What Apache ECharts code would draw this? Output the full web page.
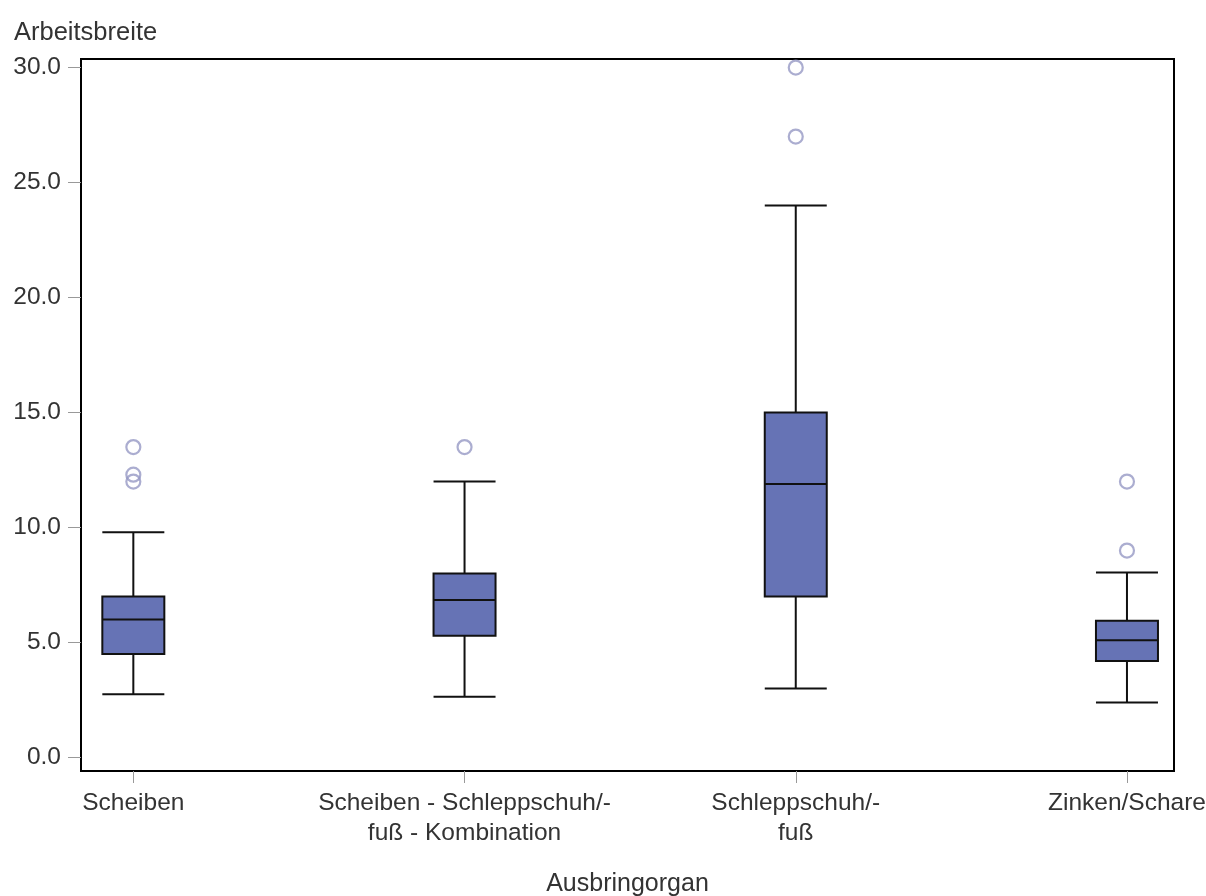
<!DOCTYPE html>
<html>
<head>
<meta charset="utf-8">
<script src="https://cdn.jsdelivr.net/npm/echarts@6/dist/echarts.min.js"></script>
<style>html,body{margin:0;padding:0;background:#fff;}#chart{width:1206px;height:896px;}</style>
</head>
<body>
<div id="chart"></div>
<script>
// Categories (x positions 0..3)
const categories = ['Scheiben', 'Scheiben - Schleppschuh/-\nfuß - Kombination', 'Schleppschuh/-\nfuß', 'Zinken/Schare'];
// Box statistics: [min whisker, Q1, median, Q3, max whisker]
const boxStats = [
  [2.75, 4.5, 6.0, 7.0, 9.8],
  [2.65, 5.3, 6.85, 8.0, 12.0],
  [3.0, 7.0, 11.9, 15.0, 24.0],
  [2.4, 4.2, 5.1, 5.95, 8.05]
];
// Outliers per category
const outliers = [
  [13.5, 12.3, 12.0],
  [13.5],
  [30.0, 27.0],
  [12.0, 9.0]
];
const yTicks = [0, 5, 10, 15, 20, 25, 30];
const xTicks = [0, 1, 2, 3];

const boxData = boxStats.map((s, i) => [i].concat(s));
const outlierData = [];
outliers.forEach((arr, i) => arr.forEach(v => outlierData.push([i, v])));

const FONT = '"Liberation Sans", Arial, sans-serif';
const chart = echarts.init(document.getElementById('chart'), null, {renderer: 'canvas'});
chart.setOption({
  animation: false,
  backgroundColor: '#ffffff',
  title: {
    text: 'Arbeitsbreite',
    left: 9, top: 15,
    textStyle: {fontFamily: FONT, fontSize: 25.5, fontWeight: 'normal', color: '#333'}
  },
  grid: {
    left: 81, top: 59, right: 32, bottom: 125,
    outerBoundsMode: 'none',
    containLabel: false,
    show: true, borderColor: '#000', borderWidth: 2, backgroundColor: '#fff'
  },
  xAxis: {
    type: 'value',
    min: -0.158, max: 3.142,
    position: 'bottom',
    name: 'Ausbringorgan',
    nameLocation: 'middle',
    nameGap: 101,
    nameTextStyle: {fontFamily: FONT, fontSize: 25, color: '#333'},
    splitLine: {show: false},
    axisLine: {show: false, onZero: false},
    axisTick: {show: true, length: 12, lineStyle: {color: '#999', width: 1}, customValues: xTicks},
    axisLabel: {
      customValues: xTicks,
      margin: 17,
      fontFamily: FONT, fontSize: 24.5, color: '#333', lineHeight: 30,
      formatter: v => categories[Math.round(v)]
    }
  },
  yAxis: {
    type: 'value',
    min: -0.583, max: 30.374,
    position: 'left',
    splitLine: {show: false},
    axisLine: {show: false, onZero: false},
    axisTick: {show: true, length: 13, lineStyle: {color: '#999', width: 1}, customValues: yTicks},
    axisLabel: {
      customValues: yTicks,
      margin: 20,
      fontFamily: FONT, fontSize: 24.5, color: '#333',
      formatter: v => v.toFixed(1)
    }
  },
  series: [
    {
      type: 'boxplot',
      data: boxData,
      boxWidth: [62, 62],
      itemStyle: {color: '#6673b5', borderColor: '#111', borderWidth: 2},
      emphasis: {disabled: true}
    },
    {
      type: 'scatter',
      data: outlierData,
      symbol: 'circle',
      symbolSize: 14,
      itemStyle: {color: 'rgba(255,255,255,0)', borderColor: '#9698c4', borderWidth: 2.2},
      emphasis: {disabled: true}
    }
  ]
});
</script>
</body>
</html>
